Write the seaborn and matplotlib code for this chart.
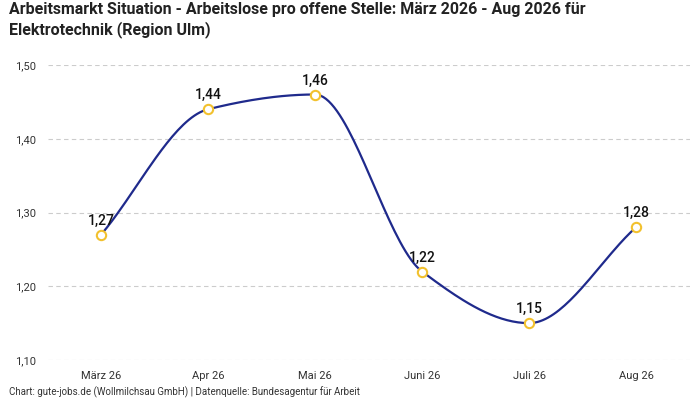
import numpy as np
import pandas as pd
import seaborn as sns
import matplotlib
matplotlib.use("Agg")
import matplotlib.pyplot as plt

# chart data
months = ["März 26", "Apr 26", "Mai 26", "Juni 26", "Juli 26", "Aug 26"]
values = [1.27, 1.44, 1.46, 1.22, 1.15, 1.28]
y_ticks = [1.10, 1.20, 1.30, 1.40, 1.50]


# monotone cubic (Fritsch-Carlson) for drawing the smooth line only
def monotone_curve(x, y, n=40):
  x = np.asarray(x, float)
  y = np.asarray(y, float)
  h = np.diff(x)
  d = np.diff(y) / h
  m = np.zeros_like(y)
  m[0], m[-1] = d[0], d[-1]
  for i in range(1, len(y) - 1):
    if d[i - 1] * d[i] > 0:
      m[i] = 2 / (1 / d[i - 1] + 1 / d[i])
  xs, ys = [], []
  for i in range(len(h)):
    t = np.linspace(0, 1, n)
    h00 = 2 * t**3 - 3 * t**2 + 1
    h10 = t**3 - 2 * t**2 + t
    h01 = -2 * t**3 + 3 * t**2
    h11 = t**3 - t**2
    xs.append(x[i] + t * h[i])
    ys.append(h00 * y[i] + h10 * h[i] * m[i] + h01 * y[i + 1] + h11 * h[i] * m[i + 1])
  return np.concatenate(xs), np.concatenate(ys)


sns.set_style("white")
plt.rcParams["font.family"] = ["Roboto", "DejaVu Sans"]

df = pd.DataFrame({"x": range(len(months)), "value": values})
cx, cy = monotone_curve(df["x"], df["value"])

fig = plt.figure(figsize=(7, 4), dpi=100)
ax = fig.add_axes([0.068, 0.1, 0.917, 0.7375])

sns.lineplot(x=cx, y=cy, ax=ax, color="#1f2a8c", linewidth=1.6, sort=False)
sns.scatterplot(data=df, x="x", y="value", ax=ax, s=45, color="white",
                edgecolor="#f2c12e", linewidth=1.5, zorder=5)

for xi, v in zip(df["x"], df["value"]):
  ax.annotate(f"{v:.2f}".replace(".", ","), (xi, v), xytext=(0, 5),
              textcoords="offset points", ha="center", va="bottom",
              fontsize=10, fontweight="medium", color="#111111")

ax.set_xlim(-0.5, len(months) - 0.5)
ax.set_ylim(1.10, 1.50)
ax.set_xticks(range(len(months)))
ax.set_xticklabels(months, fontsize=8, color="#333333")
ax.set_yticks(y_ticks)
ax.set_yticklabels([f"{t:.2f}".replace(".", ",") for t in y_ticks], fontsize=8, color="#333333")
ax.tick_params(length=0, pad=8)
ax.yaxis.grid(True, linestyle=(0, (4, 3)), color="#cccccc", linewidth=0.8)
ax.set_axisbelow(True)
ax.set_xlabel("")
ax.set_ylabel("")
sns.despine(ax=ax, left=True, bottom=True)

fig.text(0.013, 0.995, "Arbeitsmarkt Situation - Arbeitslose pro offene Stelle: März 2026 - Aug 2026 für\nElektrotechnik (Region Ulm)",
         ha="left", va="top", fontsize=11.5, fontweight="bold", color="#222222", linespacing=1.3)
fig.text(0.013, 0.005, "Chart: gute-jobs.de (Wollmilchsau GmbH) | Datenquelle: Bundesagentur für Arbeit",
         ha="left", va="bottom", fontsize=7, color="#333333")

fig.savefig("out.png", dpi=100)
